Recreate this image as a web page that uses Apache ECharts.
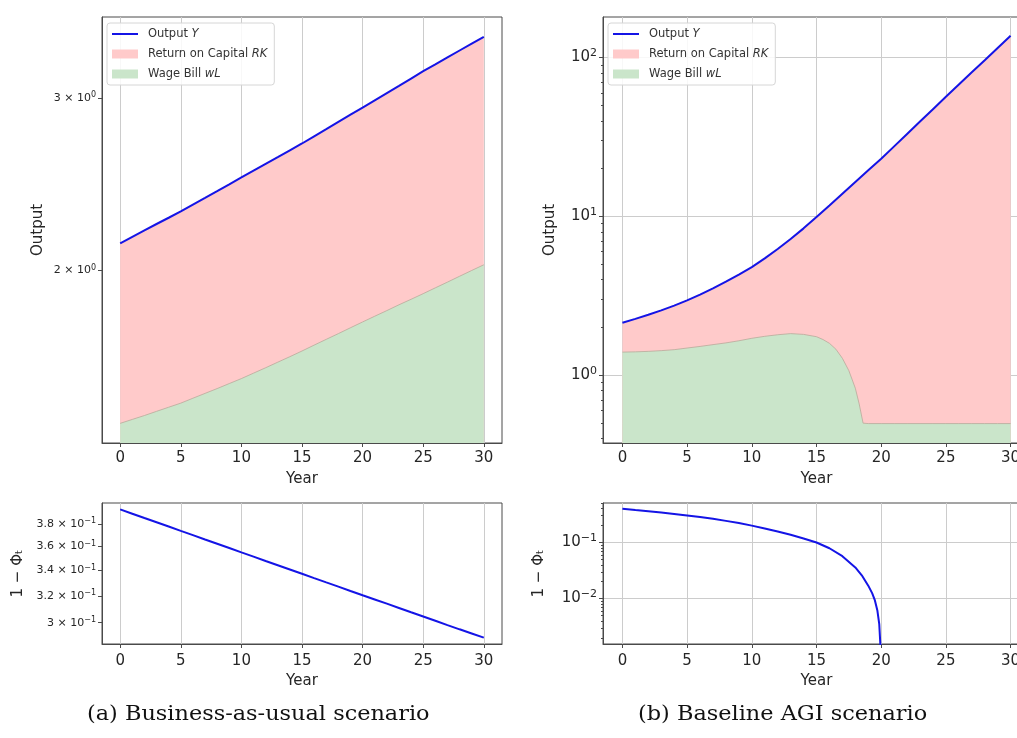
<!DOCTYPE html>
<html>
<head>
<meta charset="utf-8">
<script src="https://cdn.jsdelivr.net/npm/echarts@6/dist/echarts.min.js"></script>
<style>
html,body{margin:0;padding:0;background:#fff;overflow:hidden;}
#chart{width:1040px;height:738px;}
</style>
</head>
<body>
<div id="chart"></div>
<script>
// ---- Data ----
const years = [0,1,2,3,4,5,6,7,8,9,10,11,12,13,14,15,16,17,18,19,20,21,22,23,24,25,26,27,28,29,30];

// (a) Business-as-usual
const bauOutput = [2.132,2.165,2.198,2.231,2.264,2.298,2.335,2.372,2.410,2.449,2.489,2.529,2.570,2.611,2.653,2.696,2.742,2.788,2.836,2.885,2.934,2.984,3.035,3.087,3.141,3.196,3.248,3.301,3.355,3.409,3.464];
const bauWage = [1.396,1.409,1.422,1.436,1.450,1.464,1.481,1.498,1.515,1.533,1.551,1.571,1.591,1.612,1.633,1.655,1.678,1.701,1.724,1.748,1.772,1.796,1.820,1.845,1.869,1.894,1.920,1.946,1.973,2.000,2.027];
const bauPhi = [0.3935,0.3895,0.3855,0.3816,0.3777,0.3738,0.3700,0.3662,0.3625,0.3588,0.3550,0.3514,0.3478,0.3443,0.3408,0.3373,0.3338,0.3304,0.3271,0.3237,0.3204,0.3172,0.3140,0.3108,0.3076,0.3045,0.3014,0.2983,0.2953,0.2924,0.2895];

// (b) Baseline AGI
const agiOutput = [2.143,2.265,2.404,2.564,2.748,2.965,3.221,3.524,3.882,4.305,4.797,5.445,6.237,7.211,8.414,9.908,11.72,13.90,16.48,19.50,23.07,27.61,33.04,39.54,47.32,56.62,67.61,80.72,96.16,114.8,137.1];
const agiWageYears = [0,1,2,3,4,5,6,7,8,9,10,11,12,13,14,15,15.5,16,16.5,17,17.5,18,18.3,18.6,19,20,21,22,23,24,25,26,27,28,29,30];
const agiWage = [1.40,1.405,1.415,1.43,1.45,1.485,1.52,1.56,1.60,1.65,1.71,1.76,1.80,1.83,1.81,1.75,1.68,1.59,1.46,1.28,1.07,0.83,0.66,0.50,0.497,0.497,0.497,0.497,0.497,0.497,0.497,0.497,0.497,0.497,0.497,0.497];
const agiPhiYears = [0,1,2,3,4,5,6,7,8,9,10,11,12,13,14,15,16,17,18,18.5,19,19.3,19.5,19.7,19.85,20];
const agiPhi = [0.40,0.38,0.362,0.342,0.322,0.303,0.284,0.264,0.243,0.222,0.200,0.178,0.157,0.137,0.118,0.100,0.079,0.057,0.036,0.026,0.017,0.0125,0.0095,0.0062,0.0035,0.0008];

// Ticks and labels (rich-text: base{sup})
const xTicks = [0,5,10,15,20,25,30];
const bauOutTicks = [2,3];
const bauOutLabels = [['2 × 10','0'],['3 × 10','0']];
const agiOutTicks = [1,10,100];
const agiOutLabels = [['10','0'],['10','1'],['10','2']];
const agiOutMinorTicks = [0.4,0.5,0.6,0.7,0.8,0.9,2,3,4,5,6,7,8,9,20,30,40,50,60,70,80,90];
const bauPhiTicks = [0.3,0.32,0.34,0.36,0.38];
const bauPhiLabels = [['3 × 10','−1'],['3.2 × 10','−1'],['3.4 × 10','−1'],['3.6 × 10','−1'],['3.8 × 10','−1']];
const agiPhiTicks = [0.01,0.1];
const agiPhiLabels = [['10','−2'],['10','−1']];
const agiPhiMinorTicks = [0.002,0.003,0.004,0.005,0.006,0.007,0.008,0.009,0.02,0.03,0.04,0.05,0.06,0.07,0.08,0.09,0.2,0.3,0.4,0.5];

const seriesNames = ['Output Y','Return on Capital RK','Wage Bill wL'];
const captions = ['(a) Business-as-usual scenario','(b) Baseline AGI scenario'];

// ---- Helpers ----
const FONT = 'DejaVu Sans';
const pairs = (xs, ys) => xs.map((x, i) => [x, ys[i]]);
function labelFor(ticks, labels) {
  return function (v) {
    let best = 0, bd = Infinity;
    ticks.forEach((t, i) => { const d = Math.abs(Math.log(v) - Math.log(t)); if (d < bd) { bd = d; best = i; } });
    return '{b|' + labels[best][0] + '}{s|' + labels[best][1] + '}';
  };
}
const REDFILL = '#ffcaca', GREENFILL = '#cae5ca', BLUE = '#1414e6';
const FRAME = '#4a4a4a', GRIDC = '#cccccc', TXT = '#262626';

function xAxis(gi, nameGap, labelMargin) {
  return {
    type: 'value', gridIndex: gi, min: -1.5, max: 31.5,
    name: 'Year', nameLocation: 'middle', nameGap: nameGap,
    nameTextStyle: { fontFamily: FONT, fontSize: 15, color: TXT },
    axisLine: { show: true, onZero: false, lineStyle: { color: FRAME, width: 1 } },
    axisTick: { show: true, length: 4, customValues: xTicks, lineStyle: { color: FRAME } },
    axisLabel: { customValues: xTicks, margin: labelMargin, fontFamily: FONT, fontSize: 15, color: TXT },
    splitLine: { show: true, lineStyle: { color: GRIDC, width: 1 } }
  };
}
function yAxis(gi, opt) {
  const fs = opt.fontSize, ss = Math.round(fs * 0.72);
  return {
    type: 'log', logBase: 10, gridIndex: gi, min: opt.min, max: opt.max, position: 'left',
    name: opt.name, nameLocation: 'middle', nameGap: opt.nameGap, nameRotate: 90,
    nameTextStyle: { fontFamily: FONT, fontSize: 15, color: TXT },
    axisLine: { show: true, onZero: false, lineStyle: { color: FRAME, width: 1 } },
    axisTick: { show: true, length: 4, customValues: opt.ticks, lineStyle: { color: FRAME } },
    axisLabel: { customValues: opt.ticks, formatter: labelFor(opt.ticks, opt.labels), margin: 6,
                 fontFamily: FONT, fontSize: fs, color: TXT,
                 rich: { b: { fontFamily: FONT, fontSize: fs, color: TXT, lineHeight: Math.round(fs * 1.25) },
                         s: { fontFamily: FONT, fontSize: ss, color: TXT, verticalAlign: 'top', lineHeight: Math.round(fs * 1.25), padding: [0, 0, Math.round(fs * 0.25), 0] } } },
    splitLine: { show: opt.split, lineStyle: { color: GRIDC, width: 1 } }
  };
}
function minorAxis(gi, min, max, ticks) {
  return {
    type: 'log', logBase: 10, gridIndex: gi, min: min, max: max, position: 'left', offset: 0,
    axisLine: { show: false, onZero: false },
    axisTick: { show: true, length: 2, customValues: ticks, lineStyle: { color: FRAME } },
    axisLabel: { show: false },
    splitLine: { show: false }
  };
}
function legend(left) {
  return {
    left: left, top: 23, orient: 'vertical',
    backgroundColor: 'rgba(255,255,255,0.85)', borderColor: '#d6d6d6', borderWidth: 1, borderRadius: 3,
    padding: [5, 7, 5, 5], itemGap: 8, itemWidth: 26, itemHeight: 9, symbolKeepAspect: true,
    selectedMode: false,
    data: [
      { name: seriesNames[0], icon: 'path://M0,0H40V3H0Z', itemStyle: { color: BLUE } },
      { name: seriesNames[1], icon: 'rect', itemStyle: { color: REDFILL } },
      { name: seriesNames[2], icon: 'rect', itemStyle: { color: GREENFILL } }
    ],
    formatter: function (n) {
      if (n === seriesNames[0]) return '{n|Output }{i|Y}';
      if (n === seriesNames[1]) return '{n|Return on Capital }{i|RK}';
      return '{n|Wage Bill }{i|wL}';
    },
    textStyle: {
      fontFamily: FONT, fontSize: 11.5, color: '#333',
      rich: { n: { fontFamily: FONT, fontSize: 11.5, color: '#333', padding: [0, 0, 0, 5], lineHeight: 14 },
              i: { fontFamily: FONT, fontSize: 11.5, color: '#333', fontStyle: 'italic', lineHeight: 14 } }
    }
  };
}
function topSeries(ai, out, wageX, wage) {
  return [
    { name: seriesNames[1], type: 'line', xAxisIndex: ai, yAxisIndex: ai, data: pairs(years, out),
      showSymbol: false, symbol: 'none', lineStyle: { width: 0 }, itemStyle: { color: REDFILL },
      areaStyle: { color: REDFILL, opacity: 1, origin: 'start' }, z: 1 },
    { name: seriesNames[2], type: 'line', xAxisIndex: ai, yAxisIndex: ai, data: pairs(wageX, wage),
      showSymbol: false, symbol: 'none', lineStyle: { width: 0.8, color: '#b9a99a' }, itemStyle: { color: GREENFILL },
      areaStyle: { color: GREENFILL, opacity: 1, origin: 'start' }, z: 2 },
    { name: seriesNames[0], type: 'line', xAxisIndex: ai, yAxisIndex: ai, data: pairs(years, out),
      showSymbol: false, symbol: 'none', lineStyle: { width: 2, color: BLUE }, itemStyle: { color: BLUE }, z: 3 }
  ];
}

const chart = echarts.init(document.getElementById('chart'), null, { renderer: 'canvas' });
chart.setOption({
  animation: false,
  backgroundColor: '#ffffff',
  graphic: [
    { type: 'text', left: 87, top: 705, scaleX: 1.12,
      style: { text: captions[0], font: '20px "DejaVu Serif"', fill: '#111' } },
    { type: 'text', left: 638, top: 705, scaleX: 1.12,
      style: { text: captions[1], font: '20px "DejaVu Serif"', fill: '#111' } }
  ],
  legend: [legend(107), legend(608)],
  grid: [
    { left: 102, top: 17, width: 400, height: 426, show: true, borderColor: FRAME, borderWidth: 1, backgroundColor: 'transparent' },
    { left: 603, top: 17, width: 427, height: 426, show: true, borderColor: FRAME, borderWidth: 1, backgroundColor: 'transparent' },
    { left: 102, top: 503, width: 400, height: 141, show: true, borderColor: FRAME, borderWidth: 1, backgroundColor: 'transparent' },
    { left: 603, top: 503, width: 427, height: 141, show: true, borderColor: FRAME, borderWidth: 1, backgroundColor: 'transparent' }
  ],
  xAxis: [xAxis(0, 29, 8), xAxis(1, 29, 8), xAxis(2, 30, 10), xAxis(3, 30, 10)],
  yAxis: [
    yAxis(0, { min: 1.333, max: 3.63, name: 'Output', nameGap: 56, ticks: bauOutTicks, labels: bauOutLabels, fontSize: 11, split: false }),
    yAxis(1, { min: 0.375, max: 180, name: 'Output', nameGap: 45, ticks: agiOutTicks, labels: agiOutLabels, fontSize: 15, split: true }),
    yAxis(2, { min: 0.2851, max: 0.3996, name: '1 − Φₜ', nameGap: 76, ticks: bauPhiTicks, labels: bauPhiLabels, fontSize: 11, split: false }),
    yAxis(3, { min: 0.00155, max: 0.506, name: '1 − Φₜ', nameGap: 56, ticks: agiPhiTicks, labels: agiPhiLabels, fontSize: 15, split: true }),
    minorAxis(1, 0.375, 180, agiOutMinorTicks),
    minorAxis(3, 0.00155, 0.506, agiPhiMinorTicks)
  ],
  series: [].concat(
    topSeries(0, bauOutput, years, bauWage),
    topSeries(1, agiOutput, agiWageYears, agiWage),
    [
      { name: 'bauPhi', type: 'line', xAxisIndex: 2, yAxisIndex: 2, data: pairs(years, bauPhi),
        showSymbol: false, symbol: 'none', lineStyle: { width: 2, color: BLUE }, z: 3 },
      { name: 'agiPhi', type: 'line', xAxisIndex: 3, yAxisIndex: 3, data: pairs(agiPhiYears, agiPhi),
        showSymbol: false, symbol: 'none', lineStyle: { width: 2, color: BLUE }, z: 3, clip: true }
    ]
  )
});
</script>
</body>
</html>
